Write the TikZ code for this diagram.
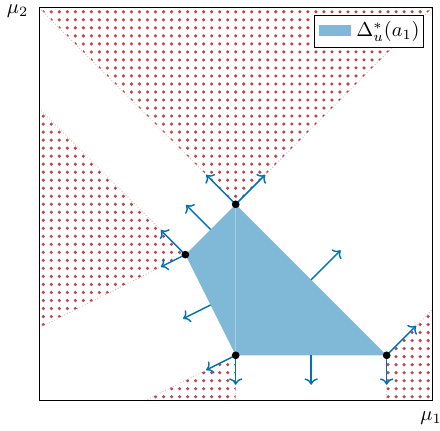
\documentclass[tikz,border=0pt]{standalone}
\usepackage{tikz}
\usetikzlibrary{calc}
\usetikzlibrary{arrows.meta}
\usepackage{amsmath}
\definecolor{nblue}{RGB}{0,114,178}
\definecolor{dotred}{RGB}{185,72,78}

\begin{document}
\begin{tikzpicture}[x=0.85cm, y=0.85cm,
    normalvec/.style={-{To[scale=1.0]}, line width=0.7pt, nblue},
    vertex/.style={circle, fill=black, inner sep=0pt, minimum size=3.8pt},
    coneedge/.style={dotred!45, densely dotted, thin}]

%---------------------------------------
% Frame and vertices
%---------------------------------------
\useasboundingbox (-0.800,-0.597) rectangle (8.161,8.161);

\def\Lo{0}
\def\Hi{8}
\def\Step{0.1633}

\coordinate (v1) at (4,4);
\coordinate (v2) at (2.975,2.975);
\coordinate (v3) at (4,0.925);
\coordinate (v4) at (7.075,0.925);

%====================================================
% Normal cones (dotted)
%====================================================
\begin{scope}
  \clip (v1) -- (\Lo,\Hi) -- (\Hi,\Hi) -- cycle
        (v2) -- (\Lo,5.95) -- (\Lo,1.4875) -- cycle
        (v3) -- (2.15,\Lo) -- (4,\Lo) -- cycle
        (v4) -- (7.075,\Lo) -- (\Hi,\Lo) -- (\Hi,1.85) -- cycle;
  \foreach \i in {0,...,48}
    \foreach \j in {0,...,48}
      \fill[dotred] ({0.0816+\Step*\i},{0.0816+\Step*\j}) circle (0.036);
\end{scope}

% cone boundaries
\draw[coneedge] (\Lo,\Hi) -- (v1) -- (\Hi,\Hi);
\draw[coneedge] (\Lo,5.95) -- (v2) -- (\Lo,1.4875);
\draw[coneedge] (2.15,\Lo) -- (v3) -- (4,\Lo);
\draw[coneedge] (7.075,\Lo) -- (v4) -- (\Hi,1.85);

% ---- Delta set ----
\fill[nblue!50] (v1) -- (v2) -- (v3) -- (v4) -- cycle;
\draw[white, opacity=0.3, line width=0.4pt] (v1) -- (v3);

% ---- Normals at vertices ----
\draw[normalvec] (v1) -- ++(-0.6,0.6);
\draw[normalvec] (v1) -- ++(0.6,0.6);
\draw[normalvec] (v2) -- ++(-0.5,0.5);
\draw[normalvec] (v2) -- ++(-0.5,-0.25);
\draw[normalvec] (v3) -- ++(-0.6,-0.3);
\draw[normalvec] (v3) -- ++(0,-0.6);
\draw[normalvec] (v4) -- ++(0.6,0.6);
\draw[normalvec] (v4) -- ++(0,-0.6);

% ---- Normals at edges ----
\draw[normalvec] ($(v1)!0.5!(v2)$) -- ++(-0.5,0.5);
\draw[normalvec] ($(v2)!0.5!(v3)$) -- ++(-0.56,-0.28);
\draw[normalvec] ($(v3)!0.5!(v4)$) -- ++(0,-0.6);
\draw[normalvec] ($(v1)!0.5!(v4)$) -- ++(0.6,0.6);

\node[vertex] (p1) at (v1) {};
\node[vertex] (p2) at (v2) {};
\node[vertex] (p3) at (v3) {};
\node[vertex] (p4) at (v4) {};

% Axes
\draw (\Lo,\Lo) rectangle (\Hi,\Hi);
\node (ylabel) at (-0.444,7.94) {$\mu_2$};
\node (xlabel) at (7.98,-0.35) {$\mu_1$};

% Legend
\node[draw, fill=white, anchor=north east, inner sep=2pt,
      minimum width=53.7pt, minimum height=15.8pt]
  (legend) at (7.835,7.85)
  {\textcolor{nblue!50}{\rule[0.1ex]{15.8pt}{5.4pt}}\;$\Delta^*_u(a_1)$};

\end{tikzpicture}
\end{document}
